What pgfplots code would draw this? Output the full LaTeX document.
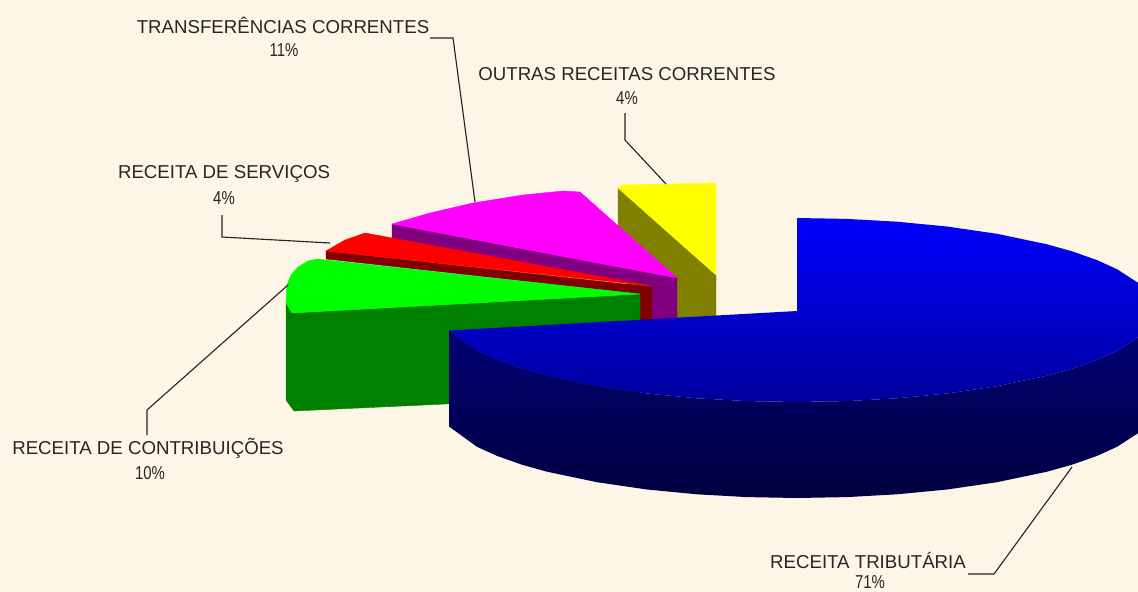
\documentclass[border=0pt]{standalone}
\usepackage{fontspec}
\setmainfont{Liberation Sans}
\usepackage{graphicx}
\usepackage{pgfplots}
\pgfplotsset{compat=1.18}

\definecolor{paper}{HTML}{FDF6E6}
\definecolor{ink}{HTML}{262626}
\definecolor{pieyellow}{HTML}{FFFF00}
\definecolor{olivedark}{HTML}{808000}
\definecolor{piemagenta}{HTML}{FF00FF}
\definecolor{purpledark}{HTML}{800080}
\definecolor{piered}{HTML}{FF0000}
\definecolor{reddark}{HTML}{800000}
\definecolor{piegreen}{HTML}{00FF00}
\definecolor{greendark}{HTML}{008000}
\definecolor{pieblue}{HTML}{0000FF}
\definecolor{bluelow}{HTML}{00009C}
\definecolor{navytop}{HTML}{000074}
\definecolor{navylow}{HTML}{000040}

\newcommand{\pct}[1]{\scalebox{0.8}[1]{#1}}

\begin{document}
\begin{tikzpicture}
\begin{axis}[
  scale only axis,
  width=853.5pt, height=444pt,
  xmin=0, xmax=1138, ymin=0, ymax=592,
  y dir=reverse,
  hide axis,
  clip=true,
  every axis plot/.append style={line width=0.3pt, mark=none},
]
% background
\addplot[fill=paper, draw=paper] coordinates {(0,0) (1138,0) (1138,592) (0,592)} --cycle;

% ---------- outras receitas correntes ----------
\addplot[fill=olivedark, draw=olivedark] coordinates {(618,188) (716,275) (716,320) (640,320) (618,260)} --cycle;
\addplot[fill=pieyellow, draw=pieyellow] coordinates {(618,188) (623,185) (716,183) (716,275)} --cycle;

% ---------- transferencias correntes ----------
\addplot[fill=purpledark, draw=purpledark] coordinates {(392,224) (677,278) (677,320) (652,320) (652,287) (392,238)} --cycle;
\addplot[fill=piemagenta, draw=piemagenta] coordinates {(392,224) (430,213) (473,203) (523,195) (563,191) (580,192) (677,278)} --cycle;

% ---------- receita de servicos ----------
\addplot[fill=reddark, draw=reddark] coordinates {(326,251) (652,287) (652,320) (640,320) (640,294) (326,259)} --cycle;
\addplot[fill=piered, draw=piered] coordinates {(326,251) (345,240) (365,233) (652,286)} --cycle;

% ---------- receita de contribuicoes ----------
\addplot[fill=greendark, draw=greendark] coordinates {(286,303) (292,313) (640,294) (640,395) (294,411) (286,400)} --cycle;
\addplot[fill=piegreen, draw=piegreen] coordinates {(640,294) (317,259) (308,261) (298,267) (291,275) (287,285) (286,303) (292,313)} --cycle;

% ---------- receita tributaria ----------
\addplot[draw=none, top color=navytop, bottom color=navylow] coordinates {
  (449,330.5) (477,350.8) (497,359.9) (522,368.7) (547,375.7) (597,386.2) (647,393.5) (697,398.3)
  (747,401.1) (797,402) (847,401.1) (897,398.3) (947,393.5) (997,386.2) (1047,375.7) (1072,368.7)
  (1097,359.9) (1117,350.8) (1138,337.2) (1138,433.2) (1117,446.8) (1097,455.9) (1072,464.7)
  (1047,471.7) (997,482.2) (947,489.5) (897,494.3) (847,497.1) (797,498) (747,497.1) (697,494.3)
  (647,489.5) (597,482.2) (547,471.7) (522,464.7) (497,455.9) (477,446.8) (449,426.5)} --cycle;
\addplot[draw=none, top color=pieblue, middle color=pieblue, bottom color=bluelow] coordinates {
  (797,218) (847,218.9) (897,221.7) (947,226.5) (997,233.8) (1047,244.3) (1072,251.3) (1097,260.1)
  (1117,269.2) (1138,282.8) (1138,337.2) (1117,350.8) (1097,359.9) (1072,368.7) (1047,375.7)
  (997,386.2) (947,393.5) (897,398.3) (847,401.1) (797,402) (747,401.1) (697,398.3) (647,393.5)
  (597,386.2) (547,375.7) (522,368.7) (497,359.9) (477,350.8) (449,330.5) (797,311)} --cycle;

% ---------- leader lines ----------
\addplot[ink, line width=0.85pt] coordinates {(430,38) (453,38) (475,202)};
\addplot[ink, line width=0.85pt] coordinates {(625,113) (625,140) (666,184)};
\addplot[ink, line width=0.85pt] coordinates {(222,215) (222,237) (330,243)};
\addplot[ink, line width=0.85pt] coordinates {(147,435) (147,410) (288,285)};
\addplot[ink, line width=0.85pt] coordinates {(968,574) (994,574) (1072,467)};

% ---------- labels ----------
\tikzset{every node/.append style={font=\fontsize{14}{16}\selectfont, text=ink, inner sep=0pt}}
\node at (axis cs:283,25) {TRANSFERÊNCIAS CORRENTES};
\node at (axis cs:284,50) {\pct{11\%}};
\node at (axis cs:627,74) {OUTRAS RECEITAS CORRENTES};
\node at (axis cs:627,98) {\pct{4\%}};
\node at (axis cs:224,174) {RECEITA DE SERVIÇOS};
\node at (axis cs:224,198) {\pct{4\%}};
\node at (axis cs:148,448) {RECEITA DE CONTRIBUIÇÕES};
\node at (axis cs:150,473) {\pct{10\%}};
\node at (axis cs:868,560) {RECEITA TRIBUTÁRIA};
\node at (axis cs:870,582) {\pct{71\%}};
\end{axis}
\end{tikzpicture}
\end{document}
